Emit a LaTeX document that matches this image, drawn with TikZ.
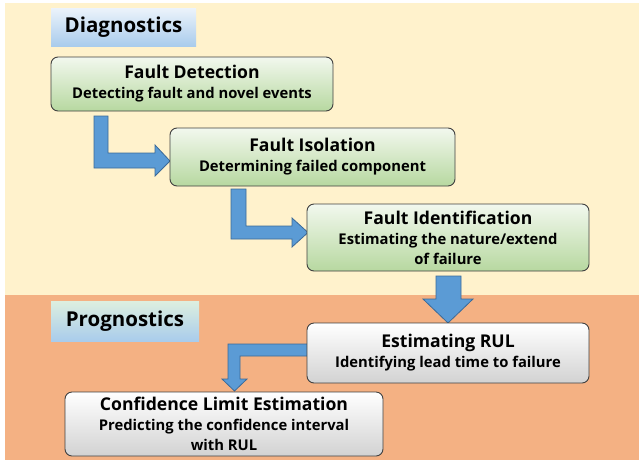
\documentclass[tikz,border=0pt]{standalone}
\usepackage{fontspec}
\setmainfont{Open Sans}
\definecolor{cream}{HTML}{FFF2CC}
\definecolor{orangebg}{HTML}{F4B183}
\definecolor{gtop}{HTML}{F2F8EE}
\definecolor{gbot}{HTML}{B7D8A0}
\definecolor{wtop}{HTML}{FFFFFF}
\definecolor{wbot}{HTML}{D2D2D2}
\definecolor{bdr}{HTML}{404040}
\definecolor{arrfill}{HTML}{5B9BD5}
\definecolor{arrline}{HTML}{3B6A98}
\definecolor{ltop}{HTML}{ECF3FB}
\definecolor{lbot}{HTML}{A9CCEC}
\definecolor{ptop}{HTML}{DDEFDF}
\begin{document}
\begin{tikzpicture}[x=1pt,y=-1pt,
  box/.style={draw=bdr,line width=0.9pt,rounded corners=7pt,align=center,inner sep=0pt,
    font=\bfseries\fontsize{14.8}{20}\selectfont},
  gbox/.style={box,top color=gtop,bottom color=gbot},
  wbox/.style={box,top color=wtop,bottom color=wbot},
  lbl/.style={inner sep=0pt,font=\bfseries\fontsize{20.5}{24}\selectfont},
  barrow/.style={fill=arrfill,draw=arrline,line width=0.8pt,line join=miter}]
\newcommand\ttl[1]{{\fontsize{17.6}{21}\selectfont #1}}
\useasboundingbox (0,0) rectangle (639,461);
\fill[cream] (5,3) rectangle (639,295);
\fill[orangebg] (5,295) rectangle (639,460);
% labels
\node[lbl,minimum width=145,minimum height=38,top color=ltop,bottom color=lbot] (diag) at (123.5,27) {Diagnostics};
\node[lbl,minimum width=148,minimum height=40,top color=ptop,bottom color=lbot] (prog) at (125,321) {Prognostics};
% block arrows
\draw[barrow] (94,116) -- (108,116) -- (108,153) -- (155,153) -- (155,145) -- (170,161) -- (155,176) -- (155,168) -- (94,168) -- cycle;
\draw[barrow] (231,189) -- (246,189) -- (246,226) -- (292,226) -- (292,218) -- (308,232.5) -- (292,247) -- (292,239) -- (231,239) -- cycle;
\draw[barrow] (436,276) -- (461,276) -- (461,299) -- (473,299) -- (448,323) -- (423,299) -- (436,299) -- cycle;
\draw[barrow] (308,344) -- (228,344) -- (228,379) -- (222,379) -- (234.5,391) -- (247,379) -- (240,379) -- (240,356) -- (308,356) -- cycle;
% boxes
\node[gbox,minimum width=282,minimum height=54] (fd) at (192,84) {\ttl{Fault Detection}\\Detecting fault and novel events};
\node[gbox,minimum width=285,minimum height=58] (fi) at (312.5,157) {\ttl{Fault Isolation}\\Determining failed component};
\node[gbox,minimum width=282,minimum height=67] (fid) at (448,237.5) {\ttl{Fault Identification}\\Estimating the nature/extend\\of failure};
\node[wbox,minimum width=282,minimum height=60] (rul) at (448,353) {\ttl{Estimating RUL}\\Identifying lead time to failure};
\node[wbox,minimum width=318,minimum height=64] (cle) at (224,424) {\ttl{Confidence Limit Estimation}\\Predicting the confidence interval\\with RUL};
\end{tikzpicture}
\end{document}
